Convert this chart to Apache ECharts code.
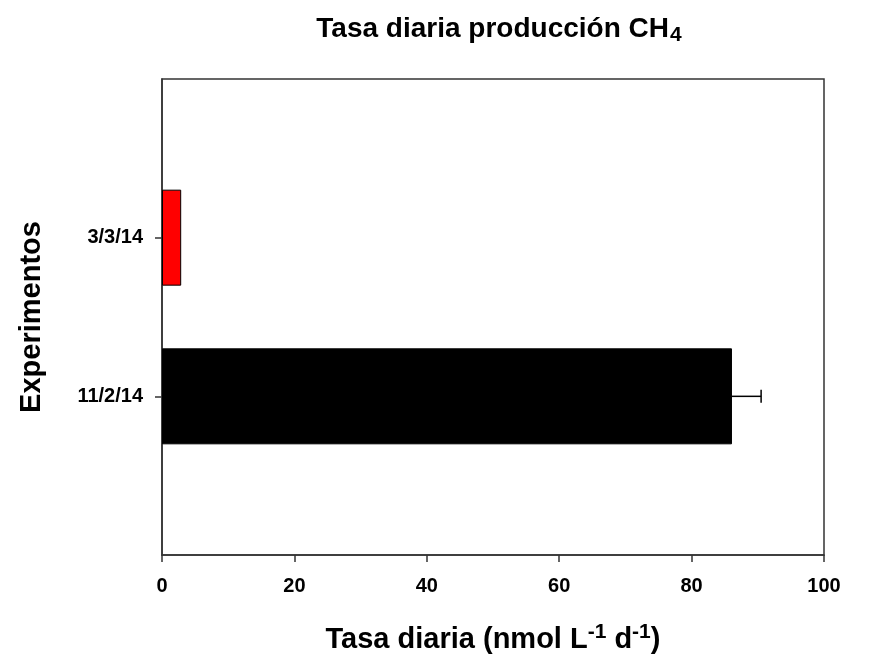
<!DOCTYPE html>
<html>
<head>
<meta charset="utf-8">
<script src="https://cdn.jsdelivr.net/npm/echarts@6/dist/echarts.min.js"></script>
<style>
  html, body { margin: 0; padding: 0; background: #fff; }
  #chart { width: 876px; height: 660px; }
</style>
</head>
<body>
<div id="chart"></div>
<script>
// Experiment dates (bottom to top) and their daily CH4 production rates
const experiments = ['11/2/14', '3/3/14'];
const rates = [86.1, 2.9];
const rateErrors = [4.4, 0];
const barColors = ['#000000', '#ff0000'];
const xTicks = [0, 20, 40, 60, 80, 100];

// Category slots: an empty slot at each end keeps the bars at 1/3 and 2/3 of the height
const slots = [''].concat(experiments, ['']);
const barData = slots.map(function (s, i) {
  const k = i - 1;
  if (k < 0 || k >= experiments.length) return '-';
  return { value: rates[k], itemStyle: { color: barColors[k] } };
});
const errData = experiments.map(function (e, k) {
  return [rates[k], rateErrors[k], k + 1];
});

const font = 'Liberation Sans, Arial, sans-serif';
const chart = echarts.init(document.getElementById('chart'), null, { renderer: 'canvas' });

chart.setOption({
  animation: false,
  backgroundColor: '#ffffff',
  title: {
    text: '{t|Tasa diaria producción CH}{sub|4}',
    left: 494,
    textAlign: 'center',
    top: 8,
    textStyle: {
      rich: {
        t: { fontFamily: font, fontWeight: 'bold', fontSize: 28, color: '#000' },
        sub: { fontFamily: font, fontWeight: 'bold', fontSize: 21, color: '#000', padding: [12, 0, 0, 1] }
      }
    }
  },
  grid: {
    left: 162, right: 52, top: 79, bottom: 105,
    show: true, borderColor: '#333', borderWidth: 1.5, backgroundColor: 'transparent'
  },
  xAxis: {
    type: 'value',
    min: xTicks[0],
    max: xTicks[xTicks.length - 1],
    interval: xTicks[1] - xTicks[0],
    splitLine: { show: false },
    axisLine: { show: true, lineStyle: { color: '#333', width: 1.5 } },
    axisTick: { show: true, inside: false, length: 7, lineStyle: { color: '#333', width: 1.5 } },
    axisLabel: { fontFamily: font, fontWeight: 'bold', fontSize: 20, color: '#000', margin: 21 },
    name: '{t|Tasa diaria (nmol L}{sup|-1}{t| d}{sup|-1}{t|)}',
    nameLocation: 'middle',
    nameGap: 67,
    nameTextStyle: {
      rich: {
        t: { fontFamily: font, fontWeight: 'bold', fontSize: 29, color: '#000' },
        sup: { fontFamily: font, fontWeight: 'bold', fontSize: 21, color: '#000', padding: [0, 0, 14, 0] }
      }
    }
  },
  yAxis: {
    type: 'category',
    data: slots,
    boundaryGap: false,
    splitLine: { show: false },
    axisLine: { show: true, lineStyle: { color: '#333', width: 1.5 } },
    axisTick: {
      show: true, length: 7, lineStyle: { color: '#333', width: 1.5 },
      interval: function (i) { return i > 0 && i <= experiments.length; }
    },
    axisLabel: {
      fontFamily: font, fontWeight: 'bold', fontSize: 20, color: '#000', margin: 19,
      interval: function (i) { return i > 0 && i <= experiments.length; }
    },
    name: 'Experimentos',
    nameLocation: 'middle',
    nameGap: 116,
    nameTextStyle: { fontFamily: font, fontWeight: 'bold', fontSize: 29, color: '#000' }
  },
  series: [
    {
      type: 'bar',
      data: barData,
      barWidth: 96,
      itemStyle: { borderColor: '#000', borderWidth: 1 }
    },
    {
      type: 'custom',
      data: errData,
      z: 5,
      renderItem: function (params, api) {
        const v = api.value(0), e = api.value(1), c = api.value(2);
        if (!e) return null;
        const p0 = api.coord([v, c]);
        const p1 = api.coord([v + e, c]);
        const cap = 6.5;
        const style = { stroke: '#000', lineWidth: 1.5 };
        return {
          type: 'group',
          children: [
            { type: 'line', shape: { x1: p0[0], y1: p0[1], x2: p1[0], y2: p1[1] }, style: style },
            { type: 'line', shape: { x1: p1[0], y1: p1[1] - cap, x2: p1[0], y2: p1[1] + cap }, style: style }
          ]
        };
      }
    }
  ]
});
</script>
</body>
</html>
